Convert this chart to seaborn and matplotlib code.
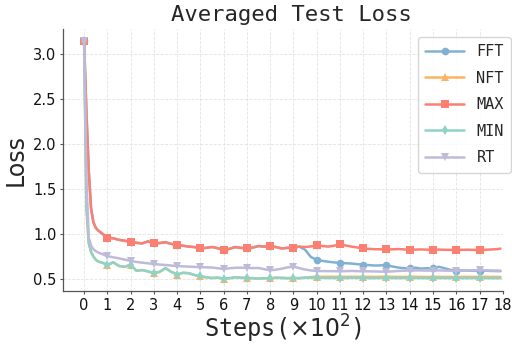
import numpy as np
import pandas as pd
import matplotlib
matplotlib.use("Agg")
import matplotlib.pyplot as plt
import seaborn as sns

# ---------------- data ----------------
EARLY_STEPS = [0, 0.1, 0.2, 0.3, 0.4, 0.5, 0.6, 0.8]
LATE_STEPS = list(np.arange(1.0, 17.76, 0.25))
END_STEP = [17.9]
STEPS = EARLY_STEPS + LATE_STEPS + END_STEP

MAX_VALUES = [3.14, 2.35, 1.70, 1.28, 1.13, 1.07, 1.04, 1.00,
              0.960, 0.952, 0.935, 0.925,
              0.912, 0.902, 0.896, 0.918,
              0.896, 0.900, 0.908, 0.890,
              0.876, 0.870, 0.860, 0.855,
              0.840, 0.846, 0.856, 0.842,
              0.822, 0.836, 0.855, 0.846,
              0.840, 0.850, 0.866, 0.860,
              0.865, 0.855, 0.840, 0.846,
              0.850, 0.860, 0.856, 0.862,
              0.875, 0.866, 0.860, 0.870,
              0.884, 0.872, 0.860, 0.850,
              0.840, 0.835, 0.831, 0.830,
              0.828, 0.830, 0.833, 0.829,
              0.825, 0.827, 0.829, 0.826,
              0.825, 0.827, 0.825, 0.824,
              0.822, 0.824, 0.826, 0.824,
              0.823, 0.825, 0.828, 0.832,
              0.838]

# FFT follows MAX until step 9.5, then diverges
FFT_SPLIT_STEP = 9.5
FFT_TAIL = [0.825, 0.745,
            0.712, 0.702, 0.692, 0.685,
            0.678, 0.676, 0.672, 0.665,
            0.660, 0.655, 0.650, 0.652,
            0.655, 0.640, 0.628, 0.621,
            0.618, 0.626, 0.616, 0.621,
            0.618, 0.636, 0.620, 0.602,
            0.593, 0.596, 0.594, 0.592,
            0.591, 0.593, 0.590, 0.589,
            0.588]

RT_VALUES = [3.14, 1.60, 0.96, 0.87, 0.83, 0.81, 0.795, 0.775,
             0.755, 0.742, 0.730, 0.715,
             0.702, 0.690, 0.682, 0.675,
             0.667, 0.661, 0.656, 0.650,
             0.645, 0.641, 0.638, 0.635,
             0.632, 0.630, 0.628, 0.620,
             0.612, 0.620, 0.625, 0.626,
             0.625, 0.622, 0.623, 0.610,
             0.598, 0.605, 0.615, 0.630,
             0.638, 0.622, 0.606, 0.596,
             0.590, 0.589, 0.588, 0.588,
             0.587, 0.588, 0.590, 0.588,
             0.587, 0.586, 0.585, 0.583,
             0.582, 0.585, 0.590, 0.593,
             0.595, 0.596, 0.595, 0.594,
             0.595, 0.596, 0.594, 0.593,
             0.592, 0.594, 0.596, 0.597,
             0.598, 0.597, 0.595, 0.594,
             0.593]

MIN_VALUES = [3.14, 1.30, 0.90, 0.80, 0.75, 0.715, 0.695, 0.680,
              0.655, 0.686, 0.645, 0.636,
              0.660, 0.592, 0.600, 0.585,
              0.565, 0.580, 0.622, 0.580,
              0.550, 0.570, 0.565, 0.545,
              0.530, 0.520, 0.512, 0.516,
              0.505, 0.510, 0.520, 0.515,
              0.512, 0.510, 0.505, 0.510,
              0.507, 0.515, 0.513, 0.510,
              0.512, 0.510, 0.516, 0.514,
              0.518, 0.514, 0.512, 0.513,
              0.512, 0.511, 0.514, 0.513,
              0.512, 0.510, 0.511, 0.512,
              0.513, 0.512, 0.511, 0.512,
              0.511, 0.512, 0.511, 0.510,
              0.511, 0.512, 0.511, 0.510,
              0.510, 0.511, 0.510, 0.511,
              0.510, 0.511, 0.510, 0.510,
              0.510]

# NFT follows MIN until step 9.5, then sits slightly above it
NFT_SPLIT_STEP = 9.5
NFT_TAIL = [0.516, 0.522,
            0.526, 0.525, 0.526, 0.525,
            0.524, 0.525, 0.526, 0.525,
            0.524, 0.525, 0.524, 0.525,
            0.526, 0.525, 0.524, 0.525,
            0.524, 0.525, 0.524, 0.523,
            0.524, 0.525, 0.524, 0.524,
            0.523, 0.524, 0.525, 0.524,
            0.524, 0.525, 0.524, 0.524,
            0.524]

SERIES_NAMES = ["FFT", "NFT", "MAX", "MIN", "RT"]
COLORS = ["#80b1d3", "#fdb462", "#fb8072", "#8dd3c7", "#bebada"]
MARKERS = ["o", "^", "s", "d", "v"]

XTICKS = list(range(0, 19))
YTICKS = [0.5, 1.0, 1.5, 2.0, 2.5, 3.0]

# ---------------- build series ----------------
steps = np.array(STEPS, dtype=float)
k_fft = int(np.argmin(np.abs(steps - FFT_SPLIT_STEP)))
k_nft = int(np.argmin(np.abs(steps - NFT_SPLIT_STEP)))
series = {
    "FFT": MAX_VALUES[:k_fft] + FFT_TAIL,
    "NFT": MIN_VALUES[:k_nft] + NFT_TAIL,
    "MAX": MAX_VALUES,
    "MIN": MIN_VALUES,
    "RT": RT_VALUES,
}
marker_idx = [i for i, s in enumerate(steps) if abs(s - round(s)) < 1e-9]

# ---------------- style ----------------
sns.set_theme(style="ticks")
mono = ["DejaVu Sans Mono", "DejaVu Sans"]
sans = ["DejaVu Sans"]
plt.rcParams["font.family"] = sans
plt.rcParams["mathtext.fontset"] = "dejavusans"

fig = plt.figure(figsize=(5.12, 3.46), dpi=100)
ax = fig.add_axes([0.1236, 0.159, 0.982 - 0.1236, 0.916 - 0.159])

for name, color, marker in zip(SERIES_NAMES, COLORS, MARKERS):
    df = pd.DataFrame({"step": steps, "loss": series[name]})
    sns.lineplot(data=df, x="step", y="loss", ax=ax, color=color,
                 marker=marker, markevery=marker_idx, markersize=5.5,
                 markeredgecolor=color, markeredgewidth=0,
                 linewidth=1.8, label=name, errorbar=None, sort=False)

ax.set_xlim(-0.895, 18.0)
ax.set_ylim(0.368, 3.272)
ax.set_xticks(XTICKS)
ax.set_yticks(YTICKS)
ax.tick_params(axis="both", labelsize=10.5, length=2.5, width=0.8,
               color="#555555", labelcolor="#111111", pad=2.5)
ax.grid(True, color="#e3e3e3", linestyle="--", linewidth=0.6)
ax.set_axisbelow(True)
sns.despine(ax=ax)
for sp in ["left", "bottom"]:
    ax.spines[sp].set_color("#555555")
    ax.spines[sp].set_linewidth(0.9)

ax.set_title("Averaged Test Loss", fontsize=16, pad=6, x=0.518,
             family=mono)
ax.set_xlabel("Steps($\\times10^2$)", fontsize=17, labelpad=0, family=mono)
ax.set_ylabel("Loss", fontsize=17, labelpad=4, family=sans)

leg = ax.legend(loc="upper right", bbox_to_anchor=(1.037, 1.0),
                handlelength=2.55, labelspacing=0.75, borderpad=0.5,
                frameon=True, fancybox=True, prop={"family": mono, "size": 11})
leg.get_frame().set_edgecolor("#cccccc")

fig.savefig("out.png", dpi=100)
